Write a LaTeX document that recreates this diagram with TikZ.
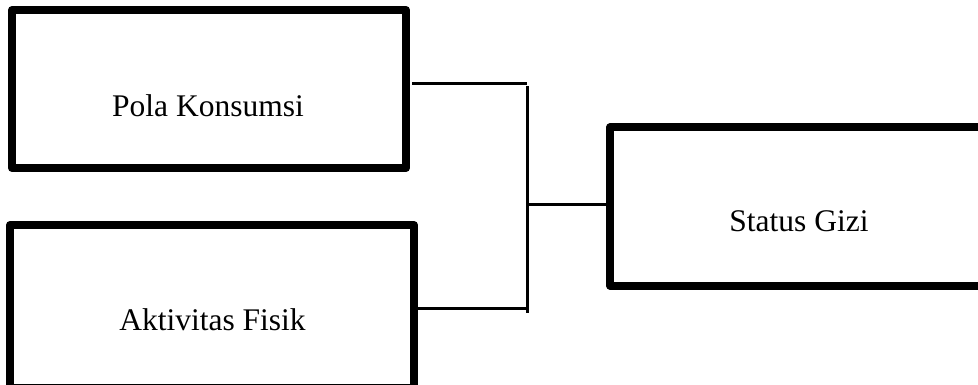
\documentclass[tikz,border=0pt]{standalone}
\usepackage{fontspec}
\setmainfont{Liberation Serif}
\begin{document}
\begin{tikzpicture}[x=1pt,y=-1pt,
  boxline/.style={draw=black,line width=8pt,line join=round,inner sep=0pt},
  lbl/.style={font=\fontsize{31.5}{36}\selectfont,inner sep=0pt,anchor=base},
  conn/.style={draw=black,line width=3pt}]
\useasboundingbox (0,0) rectangle (978,385);
\clip (0,0) rectangle (978,385);
\node[boxline,minimum width=394pt,minimum height=158pt] (pk) at (209,89) {};
\node[boxline,minimum width=404pt,minimum height=163pt] (af) at (212,306.5) {};
\node[boxline,minimum width=384pt,minimum height=158pt] (sg) at (802,206.5) {};
\node[lbl] (tpk) at (208,117) {Pola Konsumsi};
\node[lbl] (taf) at (212.5,330) {Aktivitas Fisik};
\node[lbl] (tsg) at (799,232) {Status Gizi};
\coordinate (top) at (527,84);
\coordinate (bot) at (527,308);
\coordinate (mid) at (527,205);
\draw[conn] ([xshift=2pt]pk.east |- top) -- (top);
\draw[conn] (af.east |- bot) -- (bot);
\draw[conn] ([yshift=-2pt]top) -- (527,313);
\draw[conn] (mid) -- (sg.west |- mid);
\end{tikzpicture}
\end{document}
